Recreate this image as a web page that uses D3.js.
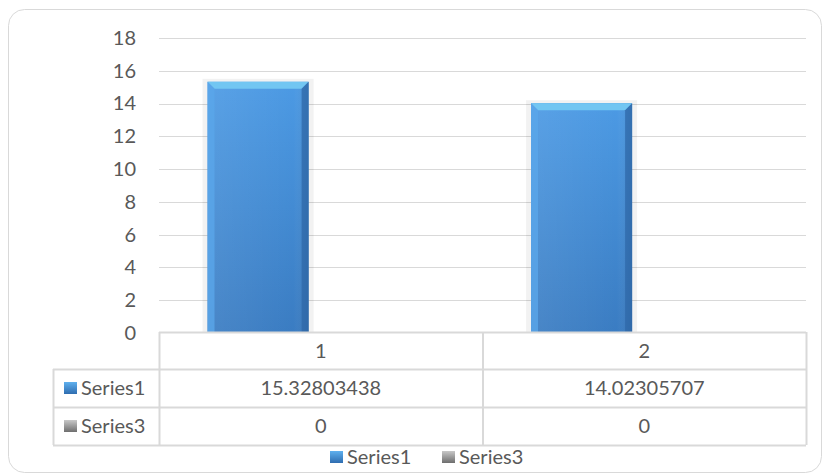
<!DOCTYPE html>
<html><head><meta charset="utf-8">
<script src="https://cdn.jsdelivr.net/npm/d3@7"></script>
<style>
html,body{margin:0;padding:0;background:#fff;}
text{font-family:Lato,"Open Sans",sans-serif;fill:#595959;}
</style></head>
<body><svg id="c" width="823" height="474"></svg>
<script>
const categories = ["1", "2"];
const seriesNames = ["Series1", "Series3"];
const series1 = [15.32803438, 14.02305707];
const series3 = [0, 0];
const tableText1 = ["15.32803438", "14.02305707"];
const tableText3 = ["0", "0"];
const yTicks = [0, 2, 4, 6, 8, 10, 12, 14, 16, 18];

const svg = d3.select("#c");
const defs = svg.append("defs");
const g1 = defs.append("linearGradient").attr("id","gBlue").attr("x1",0).attr("y1",0).attr("x2",0).attr("y2",1);
g1.append("stop").attr("offset","0%").attr("stop-color","#4c9ae4");
g1.append("stop").attr("offset","100%").attr("stop-color","#3a7cc2");
const g2 = defs.append("linearGradient").attr("id","gBlueH").attr("x1",0).attr("y1",0).attr("x2",1).attr("y2",0);
g2.append("stop").attr("offset","0%").attr("stop-color","#ffffff").attr("stop-opacity",0.08);
g2.append("stop").attr("offset","85%").attr("stop-color","#ffffff").attr("stop-opacity",0);
g2.append("stop").attr("offset","100%").attr("stop-color","#000000").attr("stop-opacity",0.12);
const lb = defs.append("linearGradient").attr("id","lgBlue").attr("x1",0).attr("y1",0).attr("x2",0).attr("y2",1);
lb.append("stop").attr("offset","0%").attr("stop-color","#5fb0ee");
lb.append("stop").attr("offset","100%").attr("stop-color","#2f6db0");
const lg = defs.append("linearGradient").attr("id","lgGray").attr("x1",0).attr("y1",0).attr("x2",0).attr("y2",1);
lg.append("stop").attr("offset","0%").attr("stop-color","#c8c8c8");
lg.append("stop").attr("offset","100%").attr("stop-color","#6e6e6e");

// outer border
svg.append("rect").attr("x",8.5).attr("y",9.5).attr("width",813).attr("height",463).attr("rx",16)
  .attr("fill","#fff").attr("stroke","#d9d9d9").attr("stroke-width",1);

const plotL = 159, plotR = 806, plotT = 38, plotB = 333;
const y = d3.scaleLinear().domain([0,18]).range([plotB, plotT]);
const x0 = d3.scaleBand().domain(categories).range([plotL, plotR]).padding(0);
const x1 = d3.scaleBand().domain(seriesNames).range([0, x0.bandwidth()]).paddingInner(0).paddingOuter(0.6).align(0.4);

// gridlines
svg.append("g").selectAll("line").data(yTicks.filter(d=>d>0)).join("line")
  .attr("x1",plotL).attr("x2",plotR).attr("y1",d=>Math.round(y(d))+0.5).attr("y2",d=>Math.round(y(d))+0.5)
  .attr("stroke","#d9d9d9").attr("stroke-width",1);

// y axis labels
const yAxis = d3.axisLeft(y).tickValues(yTicks).tickSize(0).tickPadding(0);
const ya = svg.append("g").attr("transform",`translate(136,0)`).call(yAxis);
ya.select(".domain").remove();
ya.selectAll("text").attr("font-size","20px").attr("fill","#595959").style("font-family","Lato,'Open Sans',sans-serif");

// bars
const data = categories.map((c,i)=>({c, vals:[{s:"Series1",v:series1[i]},{s:"Series3",v:series3[i]}]}));
const bars = svg.append("g");
data.forEach(d=>{
  d.vals.forEach(e=>{
    if (e.v <= 0) return;
    const bx = x0(d.c) + x1(e.s), bw = x1.bandwidth();
    const by = y(e.v), bh = y(0) - y(e.v);
    const gb = bars.append("g");
    // shadow
    gb.append("rect").attr("x",bx-5).attr("y",by-3).attr("width",bw+10).attr("height",bh+3).attr("fill","#000").attr("opacity",0.05);
    gb.append("rect").attr("x",bx).attr("y",by).attr("width",bw).attr("height",bh).attr("fill","url(#gBlue)");
    gb.append("rect").attr("x",bx).attr("y",by).attr("width",bw).attr("height",bh).attr("fill","url(#gBlueH)");
    const bv = 7;
    // top bevel
    gb.append("path").attr("d",`M${bx},${by}L${bx+bw},${by}L${bx+bw-bv},${by+bv}L${bx+bv},${by+bv}Z`).attr("fill","#72c6f2");
    // left bevel
    gb.append("path").attr("d",`M${bx},${by}L${bx+bv},${by+bv}L${bx+bv},${by+bh}L${bx},${by+bh}Z`).attr("fill","#5aa6ea").attr("opacity",0.8);
    // right bevel
    gb.append("path").attr("d",`M${bx+bw},${by}L${bx+bw-bv},${by+bv}L${bx+bw-bv},${by+bh}L${bx+bw},${by+bh}Z`).attr("fill","#2f68a8").attr("opacity",0.75);
  });
});

// data table
const rowT = [332, 369, 407, 445];
const tableL = 53;
const stroke = "#d9d9d9";
const tbl = svg.append("g");
// horizontal lines
tbl.append("line").attr("x1",plotL).attr("x2",plotR).attr("y1",rowT[0]+0.5).attr("y2",rowT[0]+0.5).attr("stroke",stroke).attr("stroke-width",2);
[rowT[1],rowT[2],rowT[3]].forEach(yy=>{
  tbl.append("line").attr("x1",tableL).attr("x2",plotR).attr("y1",yy+0.5).attr("y2",yy+0.5).attr("stroke",stroke).attr("stroke-width",2);
});
// vertical lines
tbl.append("line").attr("x1",tableL+0.5).attr("x2",tableL+0.5).attr("y1",rowT[1]).attr("y2",rowT[3]).attr("stroke",stroke).attr("stroke-width",2);
[plotL, x0("2"), plotR].forEach(xx=>{
  tbl.append("line").attr("x1",xx+0.5).attr("x2",xx+0.5).attr("y1",rowT[0]).attr("y2",rowT[3]).attr("stroke",stroke).attr("stroke-width",2);
});
// header
tbl.selectAll("text.h").data(categories).join("text").attr("class","h")
  .attr("x",d=>x0(d)+x0.bandwidth()/2).attr("y",(rowT[0]+rowT[1])/2).attr("dy","0.35em")
  .attr("text-anchor","middle").attr("font-size","20px").text(d=>d);
const rowsText = [tableText1, tableText3];
rowsText.forEach((rt,ri)=>{
  tbl.selectAll(`text.r${ri}`).data(rt).join("text").attr("class",`r${ri}`)
    .attr("x",(d,i)=>x0(categories[i])+x0.bandwidth()/2).attr("y",(rowT[ri+1]+rowT[ri+2])/2).attr("dy","0.35em")
    .attr("text-anchor","middle").attr("font-size","20px").text(d=>d);
  const cy = (rowT[ri+1]+rowT[ri+2])/2;
  tbl.append("rect").attr("x",64).attr("y",cy-6).attr("width",13).attr("height",12).attr("fill",ri===0?"url(#lgBlue)":"url(#lgGray)");
  tbl.append("text").attr("x",81).attr("y",cy).attr("dy","0.35em").attr("font-size","20px").text(seriesNames[ri]);
});

// legend
const leg = svg.append("g");
const legX = [330, 442];
seriesNames.forEach((s,i)=>{
  leg.append("rect").attr("x",legX[i]).attr("y",451).attr("width",13).attr("height",12).attr("fill",i===0?"url(#lgBlue)":"url(#lgGray)");
  leg.append("text").attr("x",legX[i]+17).attr("y",457).attr("dy","0.35em").attr("font-size","20px").text(s);
});
</script></body></html>
